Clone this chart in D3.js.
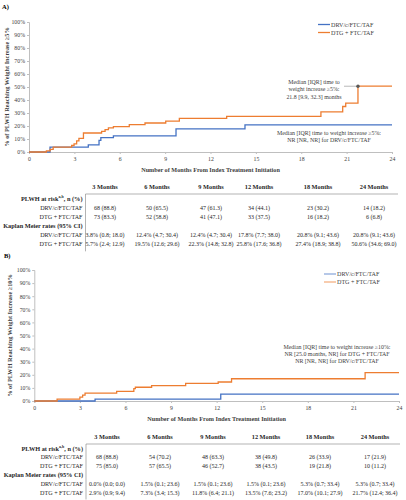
<!DOCTYPE html>
<html><head><meta charset="utf-8">
<script src="https://cdn.jsdelivr.net/npm/d3@7"></script>
<style>body{margin:0;background:#fff}svg{display:block;font-family:"Liberation Serif","Times New Roman",serif}</style>
</head><body>
<script>
// ---------- DATA ----------
const seriesNames = ["DRV/c/FTC/TAF", "DTG + FTC/TAF"];
const xTicks = [0, 3, 6, 9, 12, 15, 18, 21, 24];
const yTicks = [0, 10, 20, 30, 40, 50, 60, 70, 80, 90, 100];
const columns = ["3 Months", "6 Months", "9 Months", "12 Months", "18 Months", "24 Months"];

// Panel A (>=5% weight increase), step curves: time (months), cumulative %
const blueA_t = [0, 1.39, 3.92, 4.63, 4.75, 5.58, 9.72, 14.28, 24];
const blueA_v = [0, 3.8, 5.5, 9.0, 11.0, 12.4, 17.8, 20.8, 20.8];
const orangeA_t = [0, 1.15, 1.4, 1.6, 2.82, 2.98, 3.15, 3.3, 3.6, 4.8, 5.03, 5.25, 5.58, 6.63, 7.67, 9.04, 9.94, 13.07, 19.3, 20.74, 20.94, 21.75, 24];
const orangeA_v = [0, 0.8, 2.0, 3.8, 5.0, 6.2, 8.5, 10.5, 14.6, 15.9, 17.2, 18.5, 19.5, 21.0, 22.3, 23.8, 25.8, 27.4, 30.9, 35.0, 37.6, 50.6, 50.6];
const medianA = [21.75, 50.6];

// Panel B (>=10% weight increase)
const blueB_t = [0, 4.0, 12.27, 24];
const blueB_v = [0, 1.5, 5.3, 5.3];
const orangeB_t = [0, 1.5, 3.0, 3.18, 3.34, 5.42, 6.55, 6.65, 7.72, 9.96, 12.1, 12.98, 21.77, 24];
const orangeB_v = [0, 1.5, 2.9, 4.5, 6.0, 7.3, 9.5, 10.5, 11.8, 13.5, 14.5, 17.0, 21.7, 21.7];

// Tables
const riskA_drv = ["68 (88.8)", "50 (65.5)", "47 (61.3)", "34 (44.1)", "23 (30.2)", "14 (18.2)"];
const riskA_dtg = ["73 (83.3)", "52 (58.8)", "41 (47.1)", "33 (37.5)", "16 (18.2)", "6 (6.8)"];
const kmA_drv = ["3.8% (0.8; 18.0)", "12.4% (4.7; 30.4)", "12.4% (4.7; 30.4)", "17.8% (7.7; 38.0)", "20.8% (9.1; 43.6)", "20.8% (9.1; 43.6)"];
const kmA_dtg = ["5.7% (2.4; 12.9)", "19.5% (12.6; 29.6)", "22.3% (14.8; 32.8)", "25.8% (17.6; 36.8)", "27.4% (18.9; 38.8)", "50.6% (34.6; 69.0)"];
const riskB_drv = ["68 (88.8)", "54 (70.2)", "48 (63.3)", "38 (49.8)", "26 (33.9)", "17 (21.9)"];
const riskB_dtg = ["75 (85.0)", "57 (65.5)", "46 (52.7)", "38 (43.5)", "19 (21.8)", "10 (11.2)"];
const kmB_drv = ["0.0% (0.0; 0.0)", "1.5% (0.1; 23.6)", "1.5% (0.1; 23.6)", "1.5% (0.1; 23.6)", "5.3% (0.7; 33.4)", "5.3% (0.7; 33.4)"];
const kmB_dtg = ["2.9% (0.9; 9.4)", "7.3% (3.4; 15.3)", "11.8% (6.4; 21.1)", "13.5% (7.6; 23.2)", "17.0% (10.1; 27.9)", "21.7% (12.4; 36.4)"];

// ---------- DRAW ----------
const W = 406, H = 500;
const BLUE = "#4472C4", ORANGE = "#ED7D31", AXIS = "#bfbfbf";
const svg = d3.select("body").append("svg").attr("width", W).attr("height", H);

function panel(cfg) {
  const g = svg.append("g");
  const x = d3.scaleLinear().domain([0, 24]).range([cfg.x0, cfg.x1]);
  const y = d3.scaleLinear().domain([0, 100]).range([cfg.y0, cfg.y1]);

  g.append("text").attr("x", cfg.labelX).attr("y", cfg.labelY).attr("font-size", 6.5).attr("font-weight", "bold").text(cfg.label);

  const ya = g.append("g").attr("transform", `translate(${cfg.x0},0)`)
    .call(d3.axisLeft(y).tickValues(yTicks).tickSize(2).tickPadding(2).tickFormat(d => d + "%"));
  const xa = g.append("g").attr("transform", `translate(0,${cfg.y0})`)
    .call(d3.axisBottom(x).tickValues(xTicks).tickSize(2).tickPadding(3));
  [ya, xa].forEach(a => {
    a.selectAll("path,line").attr("stroke", AXIS);
    a.selectAll("text").attr("font-family", "Liberation Serif").attr("font-size", 5.8).attr("fill", "#404040");
  });

  g.append("text").attr("transform", `translate(${cfg.ytitleX},${(cfg.y0 + cfg.y1) / 2}) rotate(-90)`)
    .attr("text-anchor", "middle").attr("font-size", 6.3).attr("font-weight", "bold").attr("fill", "#404040").text(cfg.ytitle);
  g.append("text").attr("x", (cfg.x0 + cfg.x1) / 2).attr("y", cfg.xtitleY).attr("text-anchor", "middle")
    .attr("font-size", 6.2).attr("font-weight", "bold").attr("fill", "#404040").text("Number of Months From Index Treatment Initiation");

  const line = d3.line().x(d => x(d[0])).y(d => y(d[1])).curve(d3.curveStepAfter);
  cfg.series.forEach((s, i) => {
    g.append("path").datum(d3.zip(s.t, s.v)).attr("fill", "none").attr("stroke", [BLUE, ORANGE][i])
      .attr("stroke-width", 1.3).attr("d", line);
  });

  // legend
  seriesNames.forEach((n, i) => {
    const ly = cfg.legY + i * 8;
    g.append("line").attr("x1", cfg.legX).attr("x2", cfg.legX + 12).attr("y1", ly).attr("y2", ly)
      .attr("stroke", cfg.legColors[i]).attr("stroke-width", 1.3);
    g.append("text").attr("x", cfg.legX + 13).attr("y", ly + 2).attr("font-size", 6.1).attr("fill", "#404040").text(n);
  });

  cfg.notes.forEach(nt => {
    nt.lines.forEach((l, i) => {
      g.append("text").attr("x", nt.x).attr("y", nt.y + i * nt.dy).attr("text-anchor", "middle")
        .attr("font-size", 5.9).attr("fill", "#404040").text(l);
    });
  });
  return { g, x, y };
}

// Panel A
const pA = panel({
  label: "A)", labelX: 2, labelY: 9,
  x0: 29, x1: 392, y0: 152, y1: 22, ytitleX: 9, xtitleY: 172,
  ytitle: "% of PLWH Reaching Weight Increase \u22655%",
  series: [{ t: blueA_t, v: blueA_v }, { t: orangeA_t, v: orangeA_v }],
  legX: 318, legY: 24.5, legColors: [BLUE, ORANGE],
  notes: [
    { x: 314, y: 83.5, dy: 7.5, lines: ["Median [IQR] time to", "weight increase \u22655%:", "21.8 [9.9, 32.3] months"] },
    { x: 329, y: 135, dy: 7.3, lines: ["Median [IQR] time to weight increase \u22655%:", "NR [NR, NR] for DRV/c/FTC/TAF"] }
  ]
});
pA.g.append("line").attr("x1", 344).attr("x2", pA.x(medianA[0])).attr("y1", pA.y(medianA[1])).attr("y2", pA.y(medianA[1]))
  .attr("stroke", "#a6a6a6").attr("stroke-width", 0.8);
pA.g.append("circle").attr("cx", pA.x(medianA[0])).attr("cy", pA.y(medianA[1])).attr("r", 1.7).attr("fill", "#595959");

// Panel B
panel({
  label: "B)", labelX: 4, labelY: 258,
  x0: 34.3, x1: 399, y0: 401, y1: 270, ytitleX: 12, xtitleY: 420.5,
  ytitle: "% of PLWH Reaching Weight Increase \u226510%",
  series: [{ t: blueB_t, v: blueB_v }, { t: orangeB_t, v: orangeB_v }],
  legX: 324, legY: 274, legColors: ["#8faadc", "#f4b183"],
  notes: [
    { x: 337, y: 348.5, dy: 7.3, lines: ["Median [IQR] time to weight increase \u226510%:", "NR [25.0 months, NR] for DTG + FTC/TAF", "NR [NR, NR] for DRV/c/FTC/TAF"] }
  ]
});

function table(cfg) {
  const g = svg.append("g").attr("fill", "#262626");
  const cx = cfg.cols;
  columns.forEach((c, i) => g.append("text").attr("x", cx[i]).attr("y", cfg.y).attr("text-anchor", "middle")
    .attr("font-size", 6.3).attr("font-weight", "bold").text(c));
  g.append("line").attr("x1", cfg.vx).attr("x2", cfg.hx2).attr("y1", cfg.y + 5).attr("y2", cfg.y + 5).attr("stroke", "#7f7f7f").attr("stroke-width", 0.6);
  g.append("line").attr("x1", cfg.vx).attr("x2", cfg.vx).attr("y1", cfg.y + 5).attr("y2", cfg.y + 5 + 6.3 * cfg.dy).attr("stroke", "#7f7f7f").attr("stroke-width", 0.6);
  const rows = [
    { label: "PLWH at risk", sup: "a,b", tail: ", n (%)", bold: true },
    { label: seriesNames[0], vals: cfg.r1 },
    { label: seriesNames[1], vals: cfg.r2 },
    { label: "Kaplan Meier rates (95% CI)", bold: true },
    { label: seriesNames[0], vals: cfg.k1 },
    { label: seriesNames[1], vals: cfg.k2 }
  ];
  rows.forEach((r, j) => {
    const yy = cfg.y + 11.5 + j * cfg.dy;
    const t = g.append("text").attr("x", cfg.vx - 3).attr("y", yy).attr("text-anchor", "end")
      .attr("font-size", r.bold ? 6.3 : 6.1).attr("font-weight", r.bold ? "bold" : "normal");
    t.append("tspan").text(r.label);
    if (r.sup) {
      t.append("tspan").attr("font-size", 4).attr("dy", -2.2).text(r.sup);
      t.append("tspan").attr("dy", 2.2).text(r.tail);
    }
    if (r.vals) r.vals.forEach((v, i) => g.append("text").attr("x", cx[i]).attr("y", yy).attr("text-anchor", "middle")
      .attr("font-size", 6.0).text(v));
  });
}

table({ y: 189, cols: [105, 157, 211, 259, 318, 374], vx: 85.5, hx2: 398, dy: 9.1, r1: riskA_drv, r2: riskA_dtg, k1: kmA_drv, k2: kmA_dtg });
table({ y: 439, cols: [107, 160, 213, 266, 320, 375], vx: 86, hx2: 400, dy: 8.8, r1: riskB_drv, r2: riskB_dtg, k1: kmB_drv, k2: kmB_dtg });
</script>
</body></html>
